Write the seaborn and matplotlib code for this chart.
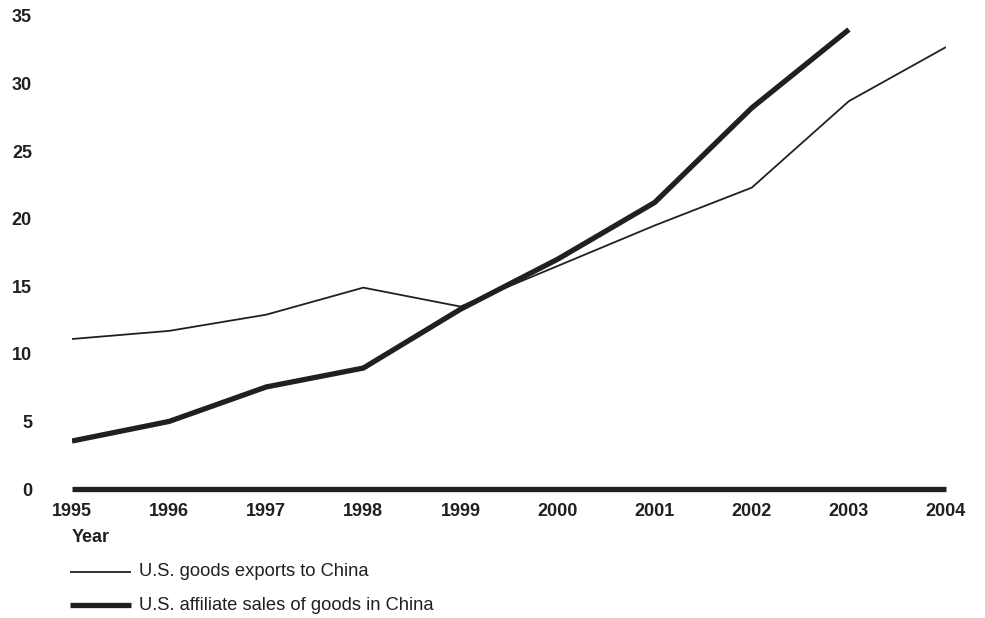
import matplotlib
matplotlib.use("Agg")
import matplotlib.pyplot as plt
from matplotlib.lines import Line2D
import seaborn as sns
import pandas as pd

years = [1995, 1996, 1997, 1998, 1999, 2000, 2001, 2002, 2003, 2004]
exports = [11.1, 11.7, 12.9, 14.9, 13.5, 16.5, 19.5, 22.3, 28.7, 32.7]
affiliate_years = [1995, 1996, 1997, 1998, 1999, 2000, 2001, 2002, 2003]
affiliate_sales = [3.55, 5.0, 7.55, 8.95, 13.3, 17.0, 21.2, 28.2, 34.0]
y_ticks = [0, 5, 10, 15, 20, 25, 30, 35]
labels = ["U.S. goods exports to China", "U.S. affiliate sales of goods in China"]

sns.set_style("white")
plt.rcParams['font.family'] = ['Liberation Sans', 'DejaVu Sans']

ink = "#231f20"
fig = plt.figure(figsize=(9.85, 6.18), dpi=100)
ax = fig.add_axes([72/985, 1-489/618, (946-72)/985, (489-16)/618])

df1 = pd.DataFrame({"year": years, "value": exports})
df2 = pd.DataFrame({"year": affiliate_years, "value": affiliate_sales})
sns.lineplot(data=df1, x="year", y="value", ax=ax, color=ink, linewidth=1.3, legend=False)
sns.lineplot(data=df2, x="year", y="value", ax=ax, color=ink, linewidth=3.8, legend=False)
for ln in ax.get_lines():
    ln.set_solid_capstyle("butt")
ax.plot([years[0], years[-1]], [0, 0], color=ink, linewidth=3.8, solid_capstyle="butt", clip_on=False)

ax.set_xlim(years[0], years[-1])
ax.set_ylim(0, 35)
ax.set_xticks(years)
ax.set_xticklabels([str(y) for y in years], fontsize=13, fontweight="bold", color=ink)
ax.set_yticks(y_ticks)
ax.set_yticklabels([str(t) for t in y_ticks], fontsize=13, fontweight="bold", color=ink)
ax.tick_params(axis="both", length=0)
ax.tick_params(axis="x", pad=10)
ax.tick_params(axis="y", pad=28.8)
for s in ax.spines.values():
    s.set_visible(False)
ax.set_xlabel("")
ax.set_ylabel("")

fig.text(72/985, 1-537/618, "Year", fontsize=13, fontweight="bold", color=ink, va="center", ha="left")

legend_rows = [(572, 1.3), (605, 3.8)]
for (ypx, lw), lab in zip(legend_rows, labels):
    fig.add_artist(Line2D([70/985, 131/985], [1-ypx/618, 1-ypx/618], color=ink,
                          linewidth=lw, solid_capstyle="butt", transform=fig.transFigure))
    fig.text(139/985, 1-ypx/618, lab, fontsize=13.2, color=ink, va="center", ha="left")

fig.savefig("out.png", dpi=100)
